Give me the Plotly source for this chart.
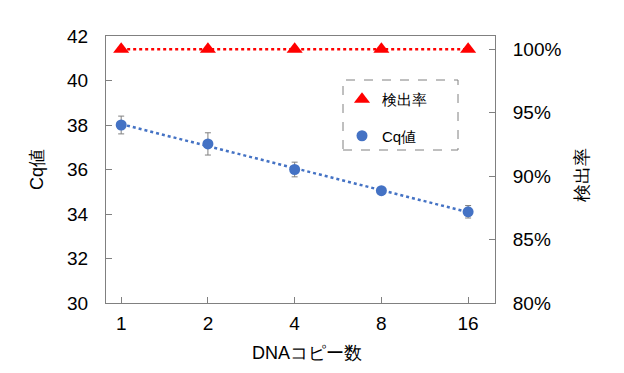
import numpy as np
import plotly.graph_objects as go

copies = ["1", "2", "4", "8", "16"]
cq_values = [38.0, 37.15, 36.0, 35.05, 34.1]
cq_errors = [0.4, 0.5, 0.33, 0.1, 0.28]
detection_rate = [1.0, 1.0, 1.0, 1.0, 1.0]

xpos = list(range(len(copies)))
slope, intercept = np.polyfit(xpos, cq_values, 1)
trend = [slope * x + intercept for x in xpos]

FONT = "Liberation Sans, Arial, sans-serif"
RED = "#FF0000"
BLUE = "#4472C4"
GRAY = "#808080"

# target page coordinates (page body has an 8px margin)
OFF = 8
L, R, T, B = 106, 495, 36, 303
W, H = 608, 357

fig = go.Figure()

fig.add_trace(go.Scatter(
    x=xpos, y=detection_rate, yaxis="y2", mode="lines", showlegend=False,
    line=dict(color=RED, width=2.5, dash="dot"), hoverinfo="skip",
))
fig.add_trace(go.Scatter(
    x=xpos, y=detection_rate, yaxis="y2", name="検出率",
    mode="markers", legendgroup="a",
    marker=dict(symbol="triangle-up", size=14, color=RED),
))
fig.add_trace(go.Scatter(
    x=xpos, y=trend, mode="lines", showlegend=False,
    line=dict(color=BLUE, width=2.5, dash="dot"), hoverinfo="skip",
))
fig.add_trace(go.Scatter(
    x=xpos, y=cq_values, name="Cq値", mode="markers", legendgroup="b",
    marker=dict(symbol="circle", size=11, color=BLUE),
    error_y=dict(type="data", array=cq_errors, color=GRAY, thickness=1, width=3),
))

pw, ph = R - L, B - T

fig.update_layout(
    width=W, height=H,
    margin=dict(l=L - OFF, r=W + OFF - R, t=T - OFF, b=H + OFF - B, autoexpand=False),
    paper_bgcolor="white", plot_bgcolor="white",
    font=dict(family=FONT, size=19, color="black"),
    showlegend=True,
    legend=dict(
        x=(342 - L) / pw, y=(B - 83) / ph, xanchor="left", yanchor="top",
        bgcolor="rgba(0,0,0,0)", borderwidth=0,
        font=dict(size=15, family=FONT),
        tracegroupgap=14, traceorder="grouped",
    ),
    xaxis=dict(
        range=[-0.175, 4.31], tickvals=xpos, ticktext=copies,
        showgrid=False, zeroline=False, automargin=False,
        showline=True, linecolor=GRAY, linewidth=1, mirror=True,
        ticks="inside", ticklen=6, tickcolor=GRAY,
        ticklabelstandoff=3,
    ),
    yaxis=dict(
        range=[30, 42], dtick=2, showgrid=False, zeroline=False,
        showline=True, linecolor=GRAY, linewidth=1, automargin=False,
        ticks="inside", ticklen=6, tickcolor=GRAY,
        ticklabelstandoff=13,
    ),
    yaxis2=dict(
        overlaying="y", side="right",
        range=[0.8, 1.0105], tickvals=[0.8, 0.85, 0.9, 0.95, 1.0],
        tickformat=".0%", showgrid=False, zeroline=False, automargin=False,
        showline=True, linecolor=GRAY, linewidth=1,
        ticks="inside", ticklen=6, tickcolor=GRAY,
        ticklabelstandoff=13,
    ),
    shapes=[dict(
        type="rect", xref="paper", yref="paper",
        x0=(343 - L) / pw, x1=(458 - L) / pw,
        y0=(B - 150) / ph, y1=(B - 80) / ph,
        line=dict(color=GRAY, width=1, dash="dash"),
    )],
    annotations=[
        dict(text="DNAコピー数", xref="paper", yref="paper",
             x=(307 - L) / pw, y=(B - 353) / ph, showarrow=False,
             xanchor="center", yanchor="middle", font=dict(size=18)),
        dict(text="Cq値", xref="paper", yref="paper",
             x=(37 - L) / pw, y=(B - 170) / ph, showarrow=False, textangle=-90,
             xanchor="center", yanchor="middle", font=dict(size=18)),
        dict(text="検出率", xref="paper", yref="paper",
             x=(582 - L) / pw, y=(B - 175) / ph, showarrow=False, textangle=-90,
             xanchor="center", yanchor="middle", font=dict(size=18)),
    ],
)

fig.write_html("out.html")
